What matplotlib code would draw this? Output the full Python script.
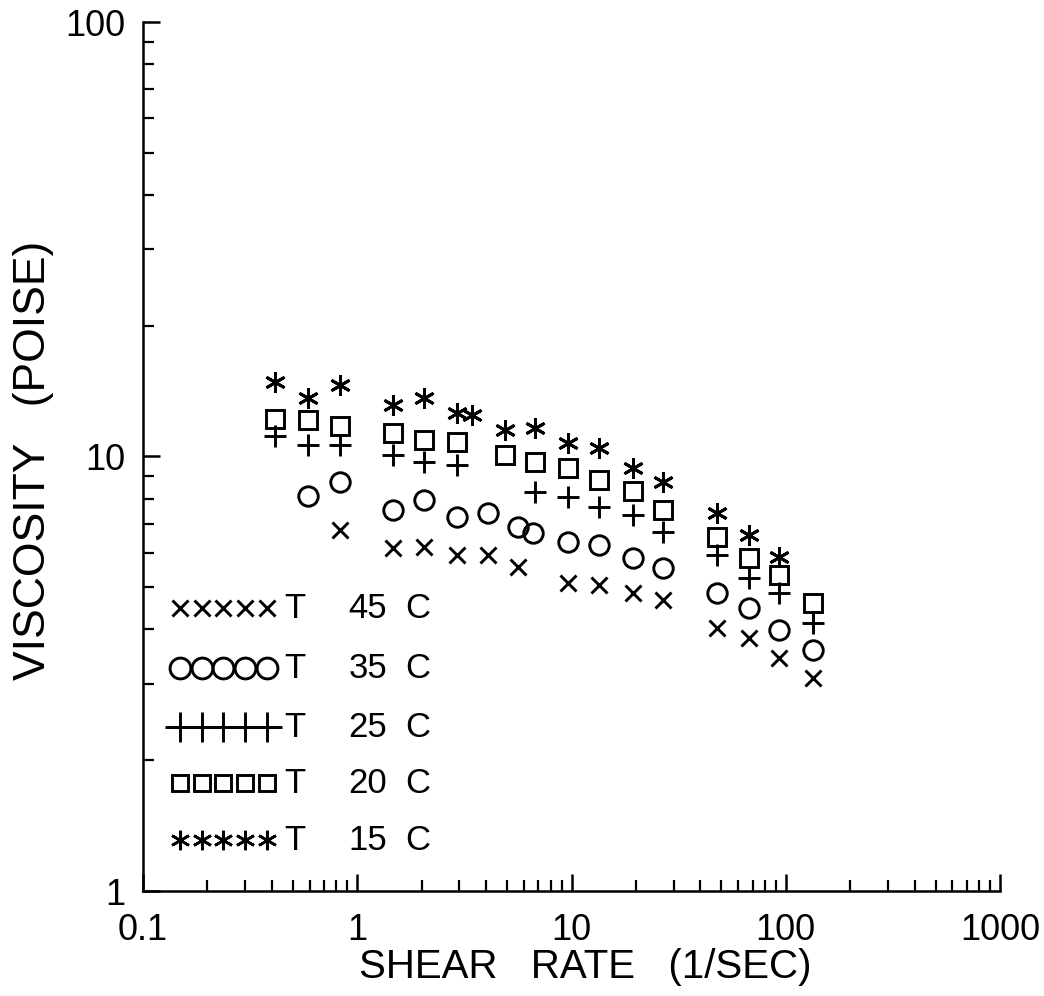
import matplotlib
matplotlib.use("Agg")
import matplotlib.pyplot as plt
from matplotlib.ticker import LogLocator, NullFormatter, FixedFormatter, FixedLocator

plt.rcParams["font.family"] = ["Liberation Sans", "DejaVu Sans"]

# Shear rate (1/s) and viscosity (poise) for each temperature
rate_15 = [0.413, 0.589, 0.831, 1.47, 2.06, 2.92, 3.43, 4.89, 6.75, 9.63, 13.5, 19.3, 26.7, 48.0, 67.4, 93.0]
visc_15 = [14.85, 13.63, 14.61, 13.14, 13.63, 12.59, 12.46, 11.51, 11.63, 10.74, 10.46, 9.41, 8.74, 7.41, 6.60, 5.87]

rate_20 = [0.413, 0.589, 0.831, 1.47, 2.06, 2.92, 4.89, 6.75, 9.63, 13.5, 19.3, 26.7, 48.0, 67.4, 93.0, 134]
visc_20 = [12.20, 12.13, 11.75, 11.33, 10.91, 10.80, 10.08, 9.71, 9.41, 8.83, 8.33, 7.53, 6.53, 5.84, 5.34, 4.60]

rate_25 = [0.413, 0.589, 0.831, 1.47, 2.06, 2.92, 6.75, 9.63, 13.5, 19.3, 26.7, 48.0, 67.4, 93.0, 134]
visc_25 = [11.15, 10.63, 10.63, 10.08, 9.71, 9.56, 8.28, 8.07, 7.65, 7.34, 6.70, 5.93, 5.25, 4.85, 4.14]

rate_35 = [0.589, 0.831, 1.47, 2.06, 2.92, 4.08, 5.63, 6.61, 9.63, 13.5, 19.3, 26.7, 48.0, 67.4, 93.0, 134]
visc_35 = [8.11, 8.74, 7.53, 7.94, 7.26, 7.41, 6.88, 6.67, 6.36, 6.26, 5.84, 5.54, 4.85, 4.48, 3.99, 3.59]

rate_45 = [0.831, 1.47, 2.06, 2.92, 4.08, 5.63, 9.63, 13.5, 19.3, 26.7, 48.0, 67.4, 93.0, 134]
visc_45 = [6.77, 6.16, 6.19, 5.93, 5.93, 5.57, 5.12, 5.06, 4.85, 4.67, 4.03, 3.82, 3.44, 3.09]

temps = ["45", "35", "25", "20", "15"]
x_ticks = [0.1, 1, 10, 100, 1000]
x_tick_labels = ["0.1", "1", "10", "100", "1000"]
y_ticks = [1, 10, 100]
y_tick_labels = ["1", "10", "100"]

W, H = 1044, 996
fig = plt.figure(figsize=(W / 100, H / 100), dpi=100)
ax_l, ax_r, ax_t, ax_b = 143, 1000, 22, 891
ax = fig.add_axes([ax_l / W, 1 - ax_b / H, (ax_r - ax_l) / W, (ax_b - ax_t) / H])

ax.set_xscale("log")
ax.set_yscale("log")
ax.set_xlim(0.1, 1000)
ax.set_ylim(1, 100)

lw = 2.1
styles = {
    "45": dict(marker="x", ms=11, mew=lw),
    "35": dict(marker="o", ms=14, mew=lw, mfc="none"),
    "25": dict(marker="+", ms=16, mew=lw),
    "20": dict(marker="s", ms=12.5, mew=lw, mfc="none"),
    "15": dict(marker=(6, 2, 0), ms=15, mew=2.1),
}
series = {
    "45": (rate_45, visc_45),
    "35": (rate_35, visc_35),
    "25": (rate_25, visc_25),
    "20": (rate_20, visc_20),
    "15": (rate_15, visc_15),
}
for t in temps:
    xs, ys = series[t]
    ax.plot(xs, ys, ls="none", color="black", mec="black", clip_on=False, **styles[t])

# Spines and ticks
for side in ("top", "right"):
    ax.spines[side].set_visible(False)
for side in ("left", "bottom"):
    ax.spines[side].set_linewidth(1.8)

ax.xaxis.set_major_locator(FixedLocator(x_ticks))
ax.xaxis.set_major_formatter(FixedFormatter(x_tick_labels))
ax.yaxis.set_major_locator(FixedLocator(y_ticks))
ax.yaxis.set_major_formatter(FixedFormatter(y_tick_labels))
ax.xaxis.set_minor_locator(LogLocator(base=10, subs=range(2, 10), numticks=20))
ax.yaxis.set_minor_locator(LogLocator(base=10, subs=range(2, 10), numticks=20))
ax.xaxis.set_minor_formatter(NullFormatter())
ax.yaxis.set_minor_formatter(NullFormatter())
ax.tick_params(which="major", direction="in", length=12, width=1.8, labelsize=26)
ax.tick_params(which="minor", direction="in", length=8, width=1.6)
ax.tick_params(axis="x", which="major", pad=16)
ax.tick_params(axis="y", which="major", pad=13)

# Axis titles
fig.text(585 / W, 1 - 967 / H, "SHEAR   RATE   (1/SEC)", ha="center", va="center", fontsize=29)
fig.text(34 / W, 1 - 460 / H, "VISCOSITY   (POISE)", ha="center", va="center",
         rotation=90, fontsize=32)

# Key drawn inside the plot area
def ax_frac(px, py):
    return (px - ax_l) / (ax_r - ax_l), (ax_b - py) / (ax_b - ax_t)

row_py = [608, 668, 727, 783, 840]
sym_px = [180, 202, 223, 245, 267]
for t, py in zip(temps, row_py):
    xs = [ax_frac(px, py)[0] for px in sym_px]
    y = ax_frac(sym_px[0], py)[1]
    st = dict(styles[t])
    if t == "25":
        st["ms"] = 22
    if t == "35":
        st["ms"] = 15
    if t == "20":
        st["ms"] = 11.5
    if t == "15":
        st["ms"] = 14
        st["mew"] = 1.9
    ax.plot(xs, [y] * len(xs), ls="none", color="black", mec="black",
            transform=ax.transAxes, clip_on=False, **st)
    if t == "25":
        x0, _ = ax_frac(170, py)
        x1, _ = ax_frac(276, py)
        ax.plot([x0, x1], [y, y], color="black", lw=lw, transform=ax.transAxes, clip_on=False)
    ax.text(*ax_frac(295, py), "T", transform=ax.transAxes, ha="center", va="center", fontsize=25)
    ax.text(*ax_frac(368, py), t, transform=ax.transAxes, ha="center", va="center", fontsize=25)
    ax.text(*ax_frac(418, py), "C", transform=ax.transAxes, ha="center", va="center", fontsize=25)

fig.savefig("out.png", dpi=100, facecolor="white")
